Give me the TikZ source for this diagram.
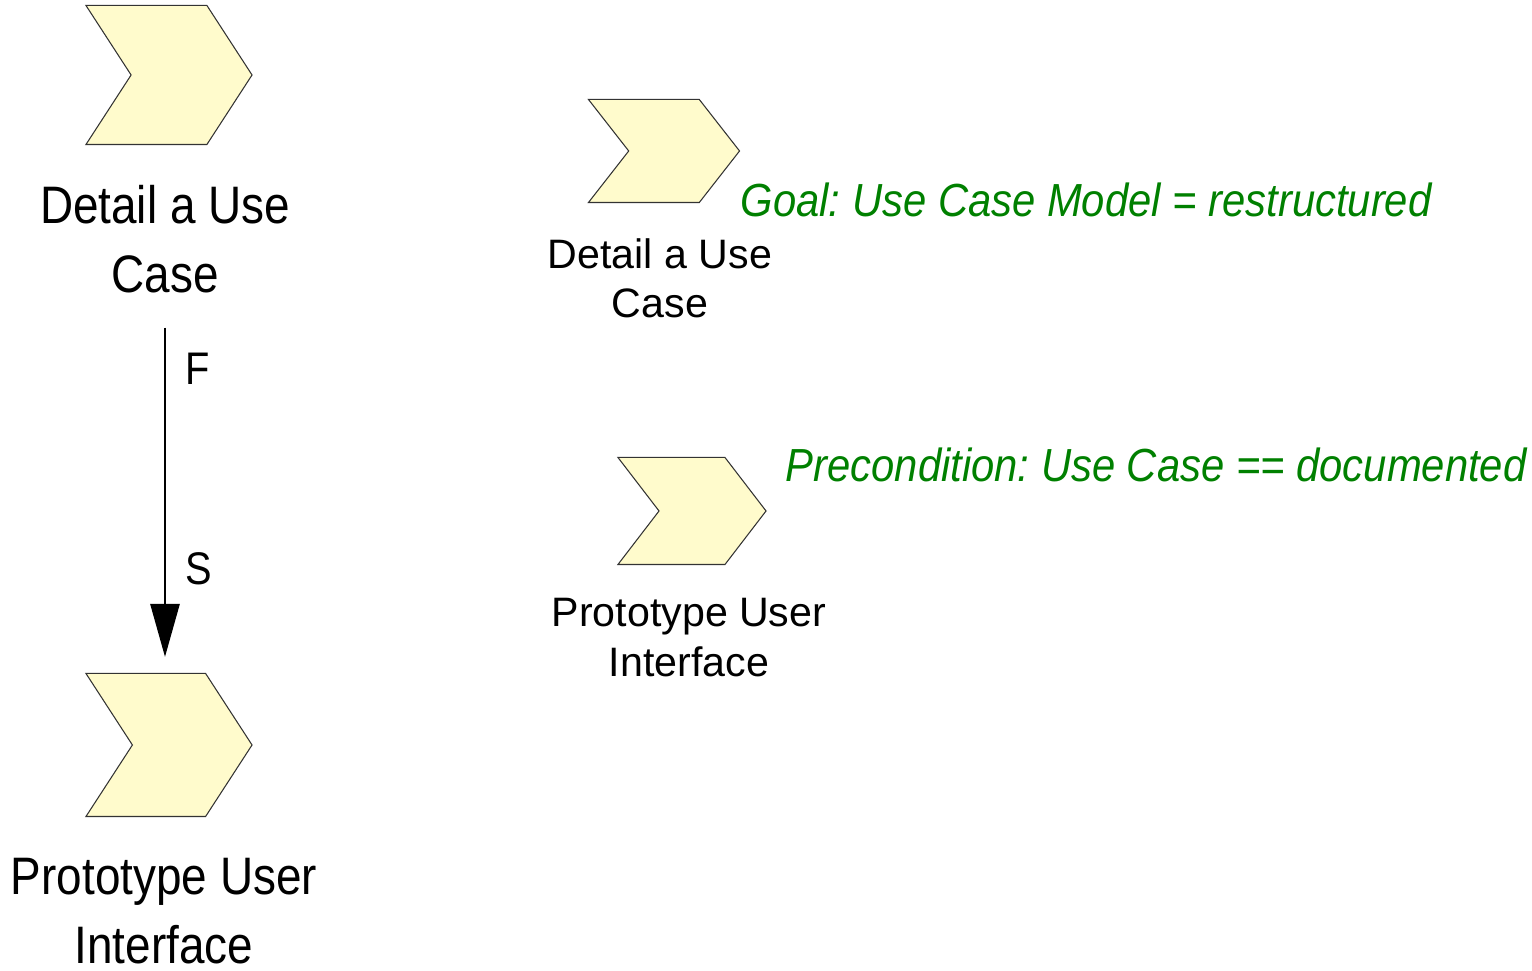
\documentclass[tikz,border=0pt]{standalone}
\usepackage{fontspec}
\setmainfont{Liberation Sans}
\newfontfamily\narrowsf[FakeStretch=0.87]{Liberation Sans}
\newfontfamily\notesf[FakeStretch=0.9]{Liberation Sans}
\usetikzlibrary{shapes.symbols,arrows.meta}
\definecolor{taskfill}{RGB}{255,251,204}
\definecolor{notegreen}{RGB}{0,128,0}
\frenchspacing
\begin{document}
\begin{tikzpicture}
    [
    x=0.01cm, y=-0.01cm,
    task/.style={
      signal,
      signal to=east,
      signal from=west,
      draw=black!80,
      line width=0.3pt,
      fill=taskfill,
      inner sep=0pt
    },
    biglabel/.style={
      align=center,
      inner sep=0pt,
      anchor=north,
      font=\narrowsf\fontsize{15}{19.5}\selectfont
    },
    smalllabel/.style={
      align=center,
      inner sep=0pt,
      anchor=north,
      font=\fontsize{11.7}{14}\selectfont
    },
    flowlabel/.style={
      inner sep=0pt,
      anchor=base west,
      font=\narrowsf\fontsize{13}{15}\selectfont
    },
    note/.style={
      inner sep=0pt,
      anchor=base west,
      text=notegreen,
      font=\notesf\itshape\fontsize{13.2}{16}\selectfont
    }]
    \useasboundingbox (0,0) rectangle (1532,971);
    % left column
    \node (dluc) at (169,75) [task, minimum width=16.6mm, minimum height=13.9mm, signal pointer angle=114] {};
    \node (dlucname) at (165,185) [biglabel] {Detail a Use\\Case};
    \node (pui) at (169,745) [task, minimum width=16.6mm, minimum height=14.3mm, signal pointer angle=114] {};
    \node (puiname) at (164,858) [biglabel] {Prototype User\\Interface};
    \draw [-{Triangle[length=5.3mm,width=2.9mm]}, line width=0.8pt, shorten <=3.4mm, shorten >=1.6mm]
      (dlucname.south) -- (dlucname.south |- pui.north);
    \node (first) at (185,385) [flowlabel] {F};
    \node (second) at (185,585) [flowlabel] {S};
    % right column
    \node (dlucb) at (664,151) [task, minimum width=15.1mm, minimum height=10.3mm, signal pointer angle=104] {};
    \node (dlucbname) at (660,238) [smalllabel] {Detail a Use\\Case};
    \node (goal) at (740,217) [note] {Goal: Use Case Model = restructured};
    \node (puib) at (692,511) [task, minimum width=14.8mm, minimum height=10.7mm, signal pointer angle=105] {};
    \node (puibname) at (689,598) [smalllabel] {Prototype User\\Interface};
    \node (precond) at (785,482) [note] {Precondition: Use Case == documented};
\end{tikzpicture}
\end{document}
